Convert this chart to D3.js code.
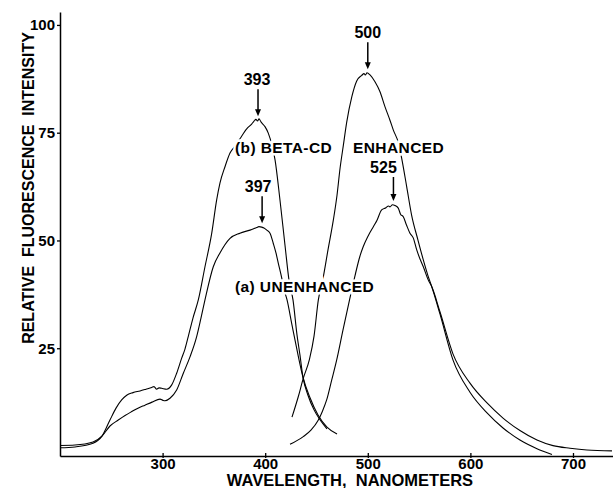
<!DOCTYPE html>
<html><head><meta charset="utf-8">
<script src="https://cdn.jsdelivr.net/npm/d3@7"></script>
<style>html,body{margin:0;padding:0;background:#fff;} svg{display:block;}</style>
</head><body><svg id="chart" width="613" height="488"></svg>
<script>
// ---- data (wavelength nm, relative fluorescence intensity) ----
const excBetaWl  = [200,214.6,232.2,240.9,248.7,254.6,260.1,265.0,271.2,278.0,283.8,289.4,291.6,294.2,296.5,299.1,304.0,308.9,313.7,318.6,321.8,325.0,329.6,334.8,341.3,347.9,352.7,355.9,360.8,365.7,370.6,375.4,382.0,386.8,389.1,391.0,392.5,394.0,395.9,399.8,403.0,406.6,409.6,414.4,419.3,423.2,427.1,431.0,433.9,436.8,441.7,447.6,453.4,460.2];
const excBetaVal = [1.9,2.1,2.95,4.6,8.35,11.1,13.0,14.1,14.7,15.1,15.5,15.9,16.1,15.5,15.8,15.7,15.5,16.5,19.2,22.7,24.8,27.7,32.0,36.2,43.9,51.7,59.4,63.3,67.1,70.3,71.9,73.6,75.9,77.0,77.7,78.1,77.7,78.2,77.5,76.4,74.9,72.1,68.7,59.4,48.9,40.8,36.2,28.1,23.4,18.3,14.1,10.7,8.4,6.3];

const excUnenhWl  = [200,214.6,232.2,240.9,248.7,256.8,263.4,269.9,276.0,282.8,289.7,297.5,300.4,302.3,307.2,313.7,320.2,326.7,333.2,337.4,341.3,349.4,355.9,365.7,375.4,385.2,391.7,393.9,396.6,398.8,401.5,404.7,407.9,410.5,412.8,416.1,418.3,421.3,426.1,431.0,436.8,443.7,451.5,460.2,470.0];
const excUnenhVal = [2.45,2.55,3.25,4.6,6.96,8.35,9.4,10.3,11.1,11.8,12.5,13.2,12.9,12.8,13.4,15.3,19.2,23.0,27.7,32.0,36.2,43.9,47.1,50.5,51.7,52.4,53.0,53.2,53.1,52.9,52.4,51.7,49.3,47.1,44.7,41.3,38.7,36.2,30.4,24.6,18.3,13.5,9.5,6.7,5.1];

const emEnhWl  = [426.1,432.3,437.1,443.0,447.6,451.8,456.6,461.2,466.4,470.0,473.0,476.2,479.5,484.4,489.2,494.1,496.3,497.8,499.2,502.2,507.0,511.9,516.8,521.6,524.9,529.9,533.0,537.9,542.7,548.9,554.1,558.7,562.3,570.4,583.0,599.6,616.2,631.8,648.3,664.9,679.5];
const emEnhVal = [9.0,13.8,18.0,22.3,27.8,36.2,41.5,47.8,54.7,60.5,66.8,72.1,77.5,83.3,87.0,88.3,88.7,88.4,88.9,88.4,86.8,84.5,81.0,77.9,75.6,72.6,69.1,62.5,55.9,50.1,45.5,41.8,39.3,32.9,22.3,14.8,10.0,6.5,3.7,1.7,0.35];

const emUnenhWl  = [424.2,437.1,444.6,451.8,455.8,459.9,464.8,469.7,475.8,482.2,487.5,492.4,495.6,500.2,505.4,509.0,513.5,517.7,520.2,521.6,524.1,526.5,529.7,531.9,534.6,537.7,541.1,544.3,547.7,550.9,554.1,559.0,562.3,570.4,583.0,599.6,616.2,631.8,648.3,664.9,680.5,697.1,713.6,738.0];
const emUnenhVal = [2.7,4.5,6.0,8.35,10.4,13.0,17.6,22.3,29.2,36.2,41.8,46.4,48.6,51.0,53.2,54.7,57.1,57.6,58.0,57.8,58.3,58.1,57.5,56.1,55.5,53.6,51.7,50.6,47.8,45.7,43.9,40.8,39.3,33.4,23.7,16.9,12.3,8.8,5.9,3.7,2.4,1.8,1.4,1.2];

const xTickValues = [300,400,500,600,700];
const yTickValues = [25,50,75,100];

const peakLabels = ["393","397","500","525"];
const peakWl     = [393,397,500,525];
const peakSeries = ["excBeta","excUnenh","emEnh","emUnenh"];

const curveLabels   = ["(b) BETA-CD","ENHANCED","(a) UNENHANCED"];
const curveLabelWl  = [370.6,485.6,370.6];
const curveLabelVal = [70.3,70.3,38.0];

const xTitle = "WAVELENGTH,  NANOMETERS";
const yTitle = "RELATIVE  FLUORESCENCE  INTENSITY";

// ---- drawing ----
const svg = d3.select("#chart");
const FONT = "'Liberation Sans', Arial, Helvetica, sans-serif";
const x = d3.scaleLinear().domain([200, 739]).range([60, 613]);
const y = d3.scaleLinear().domain([0, 103]).range([456, 12]);

const series = {
  excBeta:  {wl: excBetaWl,  v: excBetaVal},
  excUnenh: {wl: excUnenhWl, v: excUnenhVal},
  emEnh:    {wl: emEnhWl,    v: emEnhVal},
  emUnenh:  {wl: emUnenhWl,  v: emUnenhVal}
};

const line = d3.line().x(d => x(d[0])).y(d => y(d[1])).curve(d3.curveMonotoneX);
Object.values(series).forEach(s => {
  svg.append("path")
    .datum(d3.zip(s.wl, s.v))
    .attr("d", line)
    .attr("fill", "none")
    .attr("stroke", "#000")
    .attr("stroke-width", 1.1)
    .attr("stroke-linejoin", "round");
});

// axes
const xAxis = svg.append("g").attr("transform", `translate(0,${y(0)})`)
  .call(d3.axisBottom(x).tickValues(xTickValues).tickSize(2).tickSizeOuter(0).tickPadding(0));
xAxis.selectAll(".tick line").attr("y1", -3);
const yAxis = svg.append("g").attr("transform", `translate(${x(200)},0)`)
  .call(d3.axisLeft(y).tickValues(yTickValues).tickSize(3).tickSizeOuter(0).tickPadding(2));
[xAxis, yAxis].forEach(g => {
  g.select(".domain").attr("stroke", "#000").attr("stroke-width", 1.5);
  g.selectAll(".tick line").attr("stroke", "#000").attr("stroke-width", 1.3);
  g.selectAll(".tick text").attr("fill", "#000").attr("font-family", FONT)
    .attr("font-size", 15).attr("font-weight", "bold");
});

// axis titles
svg.append("text").attr("x", 350).attr("y", 485.5).attr("text-anchor", "middle")
  .attr("font-family", FONT).attr("font-size", 16.5).attr("font-weight", "bold")
  .style("white-space", "pre").text(xTitle);
svg.append("text").attr("transform", "translate(34,188) rotate(-90)").attr("text-anchor", "middle")
  .attr("font-family", FONT).attr("font-size", 16).attr("font-weight", "bold")
  .style("white-space", "pre").text(yTitle);

// curve labels (occlude curve like the original lettering)
curveLabels.forEach((t, i) => {
  svg.append("text").attr("x", x(curveLabelWl[i])).attr("y", y(curveLabelVal[i]))
    .attr("font-family", FONT).attr("font-size", 15.5).attr("font-weight", "bold")
    .attr("letter-spacing", 0.4)
    .attr("stroke", "#fff").attr("stroke-width", 5).attr("paint-order", "stroke")
    .attr("fill", "#000").text(t);
});

// peak annotations with arrows
function valueAt(s, w) {
  const i = d3.bisector(d => d).left(s.wl, w);
  if (i <= 0) return s.v[0];
  const w0 = s.wl[i-1], w1 = s.wl[i], t = (w - w0) / (w1 - w0);
  return s.v[i-1] + t * (s.v[i] - s.v[i-1]);
}
const textShift = [-1, -4, 0, -10];
const arrowLen  = [27, 27, 27, 24];
peakLabels.forEach((t, i) => {
  const s = series[peakSeries[i]];
  const px = x(peakWl[i]);
  const tip = y(valueAt(s, peakWl[i])) - 4;
  svg.append("line").attr("x1", px).attr("x2", px).attr("y1", tip - arrowLen[i]).attr("y2", tip - 6)
    .attr("stroke", "#000").attr("stroke-width", 1.5);
  svg.append("path").attr("d", `M${px-3},${tip-7}L${px+3},${tip-7}L${px},${tip}Z`).attr("fill", "#000");
  svg.append("text").attr("x", px + textShift[i]).attr("y", tip - arrowLen[i] - 4).attr("text-anchor", "middle")
    .attr("font-family", FONT).attr("font-size", 16).attr("font-weight", "bold").text(t);
});
</script>
</body></html>
